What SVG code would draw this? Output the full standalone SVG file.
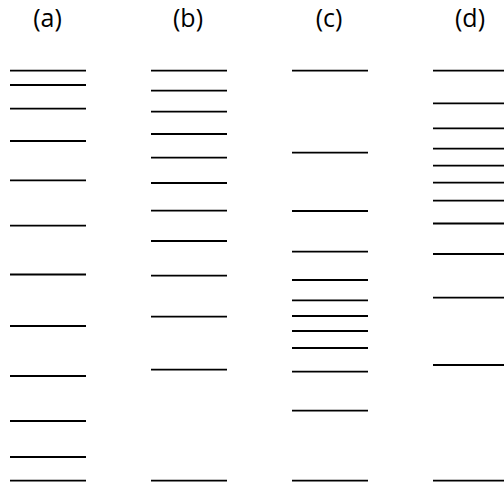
<svg xmlns="http://www.w3.org/2000/svg" width="504" height="487" viewBox="0 0 504 487">
<style>
.lbl{font-family:"Open Sans","DejaVu Sans",sans-serif;font-size:25px;fill:#000;text-anchor:middle}
.lv line{stroke:#000;stroke-width:1.8}
</style>
<rect width="504" height="487" fill="#fff"/>
<g id="labels">
<text class="lbl" x="47.5" y="26.5">(a)</text>
<text class="lbl" x="188" y="26.5">(b)</text>
<text class="lbl" x="329" y="26.5">(c)</text>
<text class="lbl" x="470" y="26.5">(d)</text>
</g>
<g id="col-a" class="lv">
<line x1="10" x2="86" y1="70.7" y2="70.7"/>
<line x1="10" x2="86" y1="85" y2="85"/>
<line x1="10" x2="86" y1="108.7" y2="108.7"/>
<line x1="10" x2="86" y1="141" y2="141"/>
<line x1="10" x2="86" y1="180.3" y2="180.3"/>
<line x1="10" x2="86" y1="225.7" y2="225.7"/>
<line x1="10" x2="86" y1="274.5" y2="274.5"/>
<line x1="10" x2="86" y1="326" y2="326"/>
<line x1="10" x2="86" y1="376" y2="376"/>
<line x1="10" x2="86" y1="421" y2="421"/>
<line x1="10" x2="86" y1="457" y2="457"/>
<line x1="10" x2="86" y1="480.7" y2="480.7"/>
</g>
<g id="col-b" class="lv">
<line x1="151" x2="227" y1="70.7" y2="70.7"/>
<line x1="151" x2="227" y1="90.7" y2="90.7"/>
<line x1="151" x2="227" y1="111.7" y2="111.7"/>
<line x1="151" x2="227" y1="134" y2="134"/>
<line x1="151" x2="227" y1="157.7" y2="157.7"/>
<line x1="151" x2="227" y1="183" y2="183"/>
<line x1="151" x2="227" y1="210.7" y2="210.7"/>
<line x1="151" x2="227" y1="241" y2="241"/>
<line x1="151" x2="227" y1="275.7" y2="275.7"/>
<line x1="151" x2="227" y1="316.7" y2="316.7"/>
<line x1="151" x2="227" y1="369.7" y2="369.7"/>
<line x1="151" x2="227" y1="480.7" y2="480.7"/>
</g>
<g id="col-c" class="lv">
<line x1="292" x2="368" y1="70.7" y2="70.7"/>
<line x1="292" x2="368" y1="152.7" y2="152.7"/>
<line x1="292" x2="368" y1="211" y2="211"/>
<line x1="292" x2="368" y1="251.7" y2="251.7"/>
<line x1="292" x2="368" y1="280" y2="280"/>
<line x1="292" x2="368" y1="300.3" y2="300.3"/>
<line x1="292" x2="368" y1="316" y2="316"/>
<line x1="292" x2="368" y1="331" y2="331"/>
<line x1="292" x2="368" y1="348" y2="348"/>
<line x1="292" x2="368" y1="371.7" y2="371.7"/>
<line x1="292" x2="368" y1="410.7" y2="410.7"/>
<line x1="292" x2="368" y1="480.7" y2="480.7"/>
</g>
<g id="col-d" class="lv">
<line x1="433" x2="509" y1="70.7" y2="70.7"/>
<line x1="433" x2="509" y1="103.3" y2="103.3"/>
<line x1="433" x2="509" y1="128.3" y2="128.3"/>
<line x1="433" x2="509" y1="148.7" y2="148.7"/>
<line x1="433" x2="509" y1="165.7" y2="165.7"/>
<line x1="433" x2="509" y1="182.7" y2="182.7"/>
<line x1="433" x2="509" y1="200.7" y2="200.7"/>
<line x1="433" x2="509" y1="223.5" y2="223.5"/>
<line x1="433" x2="509" y1="254" y2="254"/>
<line x1="433" x2="509" y1="297.7" y2="297.7"/>
<line x1="433" x2="509" y1="365" y2="365"/>
<line x1="433" x2="509" y1="480.7" y2="480.7"/>
</g>
</svg>
